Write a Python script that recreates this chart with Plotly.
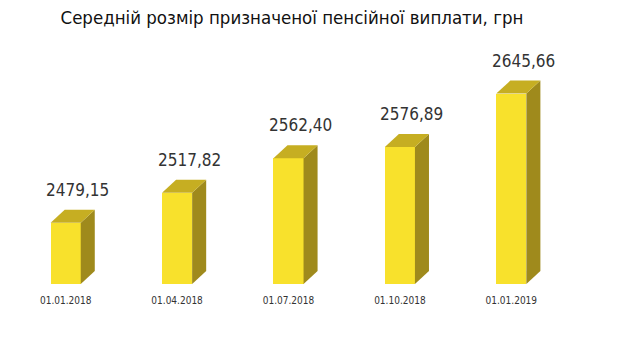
import plotly.graph_objects as go

dates = ["01.01.2018", "01.04.2018", "01.07.2018", "01.10.2018", "01.01.2019"]
values = [2479.15, 2517.82, 2562.40, 2576.89, 2645.66]
value_text = ["2479,15", "2517,82", "2562,40", "2576,89", "2645,66"]
title = "Середній розмір призначеної пенсійної виплати, грн"

# page body has an 8px default margin; compensate
off = 8
base = 2400
px_per_unit = 0.775
plot_top = 40
plot_bottom = 284
H, W = 361, 620
plot_h = plot_bottom - plot_top
y_max = base + plot_h / px_per_unit

bar_w = 0.27
dx = 0.126
dy = 13 / px_per_unit

front_col = "#F8E12C"
top_col = "#C6AE22"
side_col = "#9F8A1C"
font_fam = "DejaVu Sans Condensed, DejaVu Sans, sans-serif"

xs = list(range(len(values)))
fig = go.Figure()

fig.add_trace(go.Bar(x=xs, y=[v - base for v in values], base=base, width=bar_w,
                     marker=dict(color=front_col, line=dict(width=0)),
                     hoverinfo="skip", showlegend=False))

for i, v in zip(xs, values):
    r = i + bar_w / 2
    l = i - bar_w / 2
    fig.add_trace(go.Scatter(
        x=[r, r + dx, r + dx, r, r], y=[base, base + dy, v + dy, v, base],
        fill="toself", fillcolor=side_col, mode="lines", line=dict(width=0, color=side_col),
        hoverinfo="skip", showlegend=False))
    fig.add_trace(go.Scatter(
        x=[l, r, r + dx, l + dx, l], y=[v, v, v + dy, v + dy, v],
        fill="toself", fillcolor=top_col, mode="lines", line=dict(width=0, color=top_col),
        hoverinfo="skip", showlegend=False))
    fig.add_annotation(x=i + 0.108, y=v + dy, text=value_text[i], showarrow=False,
                       yanchor="bottom", yshift=8,
                       font=dict(family=font_fam, size=17, color="#333333"))

fig.update_layout(
    width=W, height=H,
    margin=dict(l=10 - off, r=53 + off, t=plot_top - off, b=H - plot_bottom + off),
    paper_bgcolor="white", plot_bgcolor="white",
    title=dict(text=title, x=0.458, xanchor="center", y=1 - 3 / H, yanchor="top",
               pad=dict(t=0, b=0),
               font=dict(family=font_fam, size=18.5, color="#111111")),
    xaxis=dict(range=[-0.5, len(values) - 0.5], tickmode="array", tickvals=xs, ticktext=dates,
               showgrid=False, zeroline=False, showline=False, ticks="outside", ticklen=7,
               tickcolor="rgba(0,0,0,0)",
               tickfont=dict(family=font_fam, size=10, color="#333333")),
    yaxis=dict(range=[base, y_max], visible=False, showgrid=False),
    bargap=0,
)

fig.write_html("out.html")
